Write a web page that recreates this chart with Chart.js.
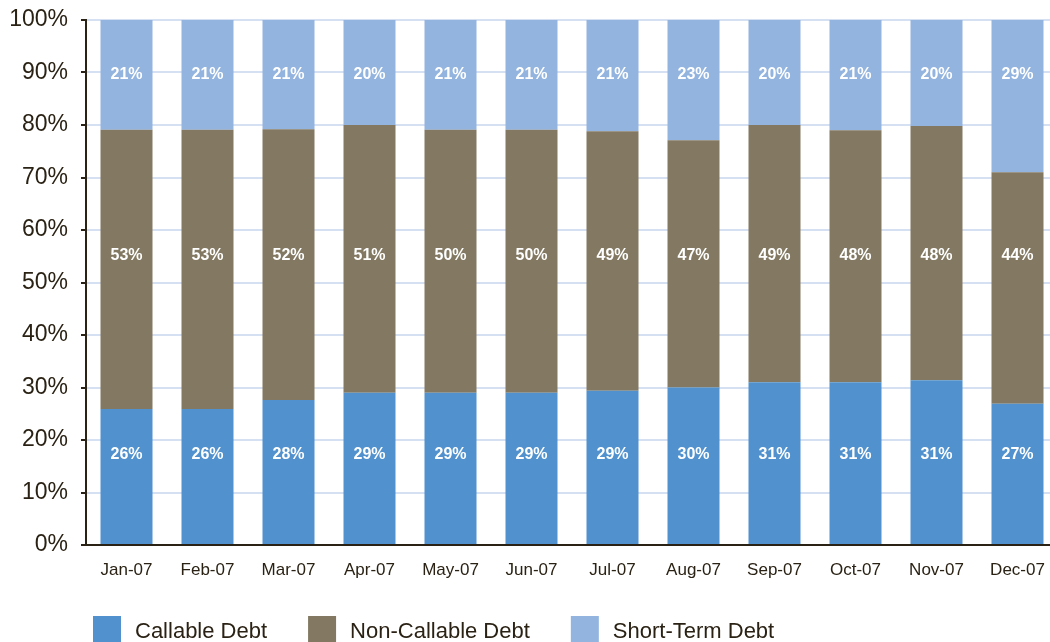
<!DOCTYPE html>
<html>
<head>
<meta charset="utf-8">
<script src="https://cdn.jsdelivr.net/npm/chart.js@4/dist/chart.umd.min.js"></script>
<style>
  html, body { margin: 0; padding: 0; background: #ffffff; overflow: hidden; }
  #wrap { position: relative; width: 1060px; height: 642px; }
</style>
</head>
<body>
<div id="wrap"><canvas id="c" width="1060" height="642"></canvas></div>
<script>
const categories = ['Jan-07','Feb-07','Mar-07','Apr-07','May-07','Jun-07','Jul-07','Aug-07','Sep-07','Oct-07','Nov-07','Dec-07'];
const seriesNames = ['Callable Debt', 'Non-Callable Debt', 'Short-Term Debt'];
const callableDebt    = [25.9, 25.9, 27.6, 29.0, 29.0, 29.0, 29.4, 30.0, 31.0, 31.0, 31.4, 26.9];
const nonCallableDebt = [53.2, 53.2, 51.6, 51.0, 50.1, 50.1, 49.4, 47.1, 49.0, 48.0, 48.4, 44.1];
const shortTermDebt   = [20.9, 20.9, 20.8, 20.0, 20.9, 20.9, 21.2, 22.9, 20.0, 21.0, 20.2, 29.0];
const yTicks = [0, 10, 20, 30, 40, 50, 60, 70, 80, 90, 100];

const FONT = "'Liberation Sans', Arial, sans-serif";
const TEXT = '#2a2214';
const COLORS = ['#5192ce', '#837962', '#93b4df'];

const valueLabels = {
  id: 'valueLabels',
  afterDatasetsDraw(chart, args, opts) {
    const ctx = chart.ctx;
    const y = chart.scales.y;
    ctx.save();
    ctx.fillStyle = '#ffffff';
    ctx.font = 'bold 16px ' + FONT;
    ctx.textAlign = 'center';
    ctx.textBaseline = 'middle';
    chart.data.datasets.forEach((ds, i) => {
      const meta = chart.getDatasetMeta(i);
      const py = y.getPixelForValue(opts.levels[i]);
      meta.data.forEach((bar, j) => {
        ctx.fillText(Math.round(ds.data[j]) + '%', bar.x, py);
      });
    });
    ctx.restore();
  }
};

const bottomLegend = {
  id: 'bottomLegend',
  afterDraw(chart, args, opts) {
    const ctx = chart.ctx;
    ctx.save();
    ctx.font = '22px ' + FONT;
    ctx.textBaseline = 'alphabetic';
    ctx.textAlign = 'left';
    let x = chart.chartArea.left + opts.startOffset;
    chart.data.datasets.forEach((ds) => {
      ctx.fillStyle = ds.backgroundColor;
      ctx.fillRect(x, opts.boxTop, opts.boxSize, opts.boxSize);
      ctx.fillStyle = TEXT;
      const tx = x + opts.boxSize + opts.textGap;
      ctx.fillText(ds.label, tx, opts.baseline);
      x = tx + ctx.measureText(ds.label).width + opts.itemGap;
    });
    ctx.restore();
  }
};

new Chart(document.getElementById('c'), {
  type: 'bar',
  data: {
    labels: categories,
    datasets: [
      { label: seriesNames[0], data: callableDebt,    backgroundColor: COLORS[0] },
      { label: seriesNames[1], data: nonCallableDebt, backgroundColor: COLORS[1] },
      { label: seriesNames[2], data: shortTermDebt,   backgroundColor: COLORS[2] }
    ]
  },
  options: {
    responsive: false,
    animation: false,
    layout: { padding: { top: 20, right: 2, bottom: 0, left: 0 } },
    datasets: { bar: { categoryPercentage: 1.0, barPercentage: 0.642, borderWidth: 0 } },
    scales: {
      x: {
        stacked: true,
        grid: { display: false, drawTicks: false },
        border: { display: true, color: TEXT, width: 2 },
        ticks: { color: TEXT, font: { family: FONT, size: 17 }, padding: 15, maxRotation: 0 },
        afterFit(scale) { scale.height = 97; }
      },
      y: {
        stacked: true,
        min: 0,
        max: 100,
        afterBuildTicks(scale) { scale.ticks = yTicks.map(v => ({ value: v })); },
        grid: { color: '#d6e0f3', lineWidth: 2, drawTicks: true, tickLength: 5, tickColor: TEXT, tickWidth: 2 },
        border: { display: true, color: TEXT, width: 2 },
        ticks: { color: TEXT, font: { family: FONT, size: 23 }, padding: 13, callback: v => v + '%' },
        afterFit(scale) { scale.width = 86; scale.paddingTop = 0; scale.paddingBottom = 0; }
      }
    },
    plugins: {
      legend: { display: false },
      tooltip: { enabled: false },
      valueLabels: { levels: [17.3, 55.2, 89.6] },
      bottomLegend: { startOffset: 7, boxTop: 616, boxSize: 28, textGap: 14, itemGap: 41, baseline: 638 }
    }
  },
  plugins: [valueLabels, bottomLegend]
});
</script>
</body>
</html>
